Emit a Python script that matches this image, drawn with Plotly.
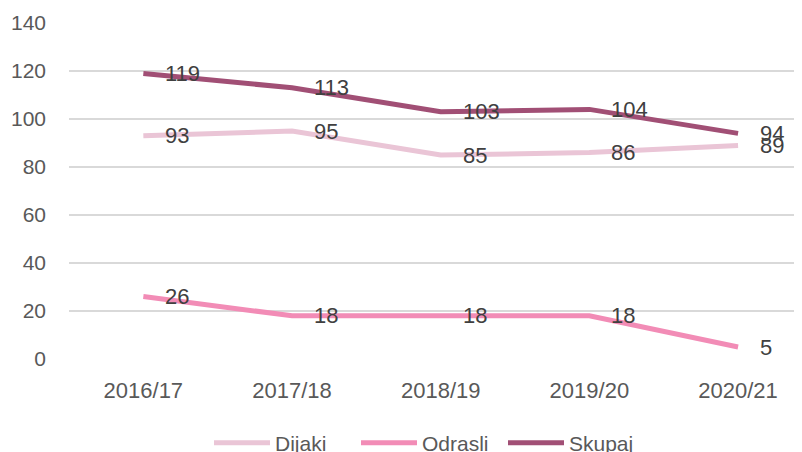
import plotly.graph_objects as go

categories = ["2016/17", "2017/18", "2018/19", "2019/20", "2020/21"]
dijaki = [93, 95, 85, 86, 89]
odrasli = [26, 18, 18, 18, 5]
skupaj = [119, 113, 103, 104, 94]
y_ticks = [0, 20, 40, 60, 80, 100, 120, 140]

series = [
    ("Dijaki", dijaki, "#EAC5D6"),
    ("Odrasli", odrasli, "#F28CB6"),
    ("Skupaj", skupaj, "#A14F75"),
]

FONT = "Liberation Sans"
fig = go.Figure()
for name, vals, color in series:
    fig.add_trace(go.Scatter(
        x=list(range(len(categories))), y=vals, name=name, mode="lines",
        line=dict(color=color, width=5),
    ))
    for i, v in enumerate(vals):
        fig.add_annotation(
            x=i, y=v, text=str(v), showarrow=False, xanchor="left", yanchor="middle",
            xshift=20, font=dict(family=FONT, size=22, color="#404040"),
        )

# page body has an 8px margin, so the figure is sized to end at the window edge
fig.update_layout(
    width=794, height=444,
    margin=dict(l=61, r=0, t=15, b=93, autoexpand=False),
    paper_bgcolor="white", plot_bgcolor="white",
    font=dict(family=FONT, color="#595959"),
    showlegend=True,
    legend=dict(
        orientation="h", x=0.191, xanchor="left", y=-0.25, yanchor="middle",
        font=dict(family=FONT, size=21, color="#595959"),
        itemwidth=56, entrywidth=76, entrywidthmode="pixels",
    ),
    xaxis=dict(
        tickmode="array", tickvals=list(range(len(categories))), ticktext=categories,
        range=[-0.5, 4.43], showgrid=False, zeroline=False, showline=False,
        tickfont=dict(family=FONT, size=22, color="#595959"), ticks="", ticklen=0,
        ticklabelstandoff=16,
    ),
    yaxis=dict(
        range=[0, 140], tickvals=y_ticks, showgrid=True, gridcolor="#D9D9D9", gridwidth=1.5,
        zeroline=False, showline=False,
        tickfont=dict(family=FONT, size=21, color="#595959"), ticks="",
        ticklabelstandoff=22,
    ),
)

fig.write_html("out.html")
